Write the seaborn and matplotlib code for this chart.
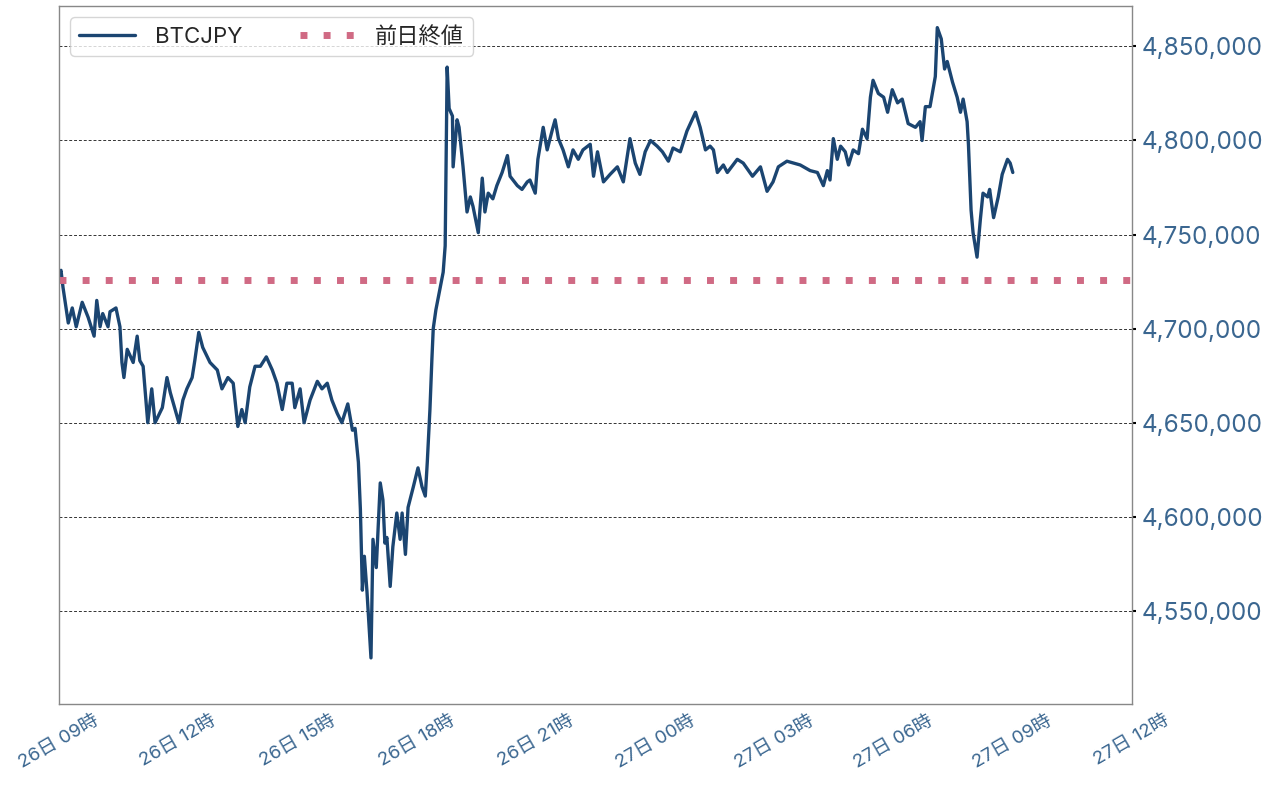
import pandas as pd
import seaborn as sns
import matplotlib.pyplot as plt
import matplotlib.dates as mdates
import matplotlib.ticker as mticker

# BTCJPY price (day hour:minute, JPY)
times = [
    "26 09:00", "26 09:03", "26 09:06", "26 09:14", "26 09:20", "26 09:26", "26 09:35", "26 09:44",
    "26 09:53", "26 09:57", "26 10:02", "26 10:06", "26 10:14", "26 10:17", "26 10:26", "26 10:32",
    "26 10:35", "26 10:38", "26 10:43", "26 10:52", "26 10:58", "26 11:02", "26 11:07", "26 11:14",
    "26 11:20", "26 11:25", "26 11:36", "26 11:43", "26 11:48", "26 12:01", "26 12:07", "26 12:13",
    "26 12:21", "26 12:25", "26 12:31", "26 12:37", "26 12:48", "26 12:59", "26 13:06", "26 13:15",
    "26 13:23", "26 13:30", "26 13:36", "26 13:41", "26 13:48", "26 13:56", "26 14:04", "26 14:13",
    "26 14:22", "26 14:29", "26 14:37", "26 14:44", "26 14:52", "26 14:56", "26 15:04", "26 15:10",
    "26 15:19", "26 15:30", "26 15:37", "26 15:45", "26 15:52", "26 16:00", "26 16:07", "26 16:16",
    "26 16:23", "26 16:27", "26 16:32", "26 16:35", "26 16:38", "26 16:41", "26 16:45", "26 16:51",
    "26 16:54", "26 16:59", "26 17:05", "26 17:09", "26 17:12", "26 17:15", "26 17:20", "26 17:24",
    "26 17:30", "26 17:35", "26 17:38", "26 17:43", "26 17:47", "26 17:55", "26 18:02", "26 18:08",
    "26 18:13", "26 18:16", "26 18:20", "26 18:23", "26 18:25", "26 18:29", "26 18:35", "26 18:40",
    "26 18:43", "26 18:46", "26 18:49", "26 18:54", "26 18:55", "26 19:01", "26 19:04", "26 19:10",
    "26 19:16", "26 19:21", "26 19:25", "26 19:33", "26 19:39", "26 19:43", "26 19:48", "26 19:55",
    "26 20:01", "26 20:09", "26 20:17", "26 20:21", "26 20:32", "26 20:39", "26 20:47", "26 20:51",
    "26 20:59", "26 21:03", "26 21:11", "26 21:17", "26 21:25", "26 21:29", "26 21:34", "26 21:41",
    "26 21:49", "26 21:56", "26 22:04", "26 22:11", "26 22:22", "26 22:27", "26 22:33", "26 22:42",
    "26 22:52", "26 23:03", "26 23:12", "26 23:22", "26 23:30", "26 23:37", "26 23:45", "26 23:53",
    "27 00:03", "27 00:11", "27 00:20", "27 00:27", "27 00:38", "27 00:48", "27 01:01", "27 01:08",
    "27 01:16", "27 01:23", "27 01:28", "27 01:34", "27 01:43", "27 01:49", "27 02:04", "27 02:13",
    "27 02:27", "27 02:39", "27 02:49", "27 02:58", "27 03:06", "27 03:19", "27 03:39", "27 03:54",
    "27 04:05", "27 04:14", "27 04:20", "27 04:24", "27 04:29", "27 04:35", "27 04:40", "27 04:47",
    "27 04:52", "27 04:59", "27 05:07", "27 05:13", "27 05:20", "27 05:25", "27 05:29", "27 05:37",
    "27 05:45", "27 05:51", "27 05:58", "27 06:06", "27 06:13", "27 06:22", "27 06:33", "27 06:40",
    "27 06:43", "27 06:48", "27 06:55", "27 07:03", "27 07:06", "27 07:12", "27 07:17", "27 07:21",
    "27 07:29", "27 07:36", "27 07:41", "27 07:45", "27 07:51", "27 07:53", "27 07:57", "27 08:00",
    "27 08:06", "27 08:11", "27 08:15", "27 08:22", "27 08:25", "27 08:31", "27 08:38", "27 08:44",
    "27 08:52", "27 08:56", "27 09:00",
]
prices = [
    4729000, 4731000, 4722000, 4703000, 4711000, 4701000, 4714000, 4706000,
    4696000, 4715000, 4701000, 4708000, 4701000, 4709000, 4711000, 4701000,
    4682000, 4674000, 4689000, 4682000, 4696000, 4683000, 4680000, 4650000,
    4668000, 4650000, 4658000, 4674000, 4666000, 4650000, 4662000, 4668000,
    4674000, 4683000, 4698000, 4690000, 4682000, 4678000, 4668000, 4674000,
    4671000, 4648000, 4657000, 4650000, 4669000, 4680000, 4680000, 4685000,
    4678000, 4671000, 4657000, 4671000, 4671000, 4658000, 4668000, 4650000,
    4662000, 4672000, 4668000, 4671000, 4662000, 4655000, 4650000, 4660000,
    4646000, 4647000, 4629000, 4604000, 4561000, 4579000, 4560000, 4525000,
    4588000, 4573000, 4618000, 4609000, 4586000, 4589000, 4563000, 4584000,
    4602000, 4588000, 4602000, 4580000, 4605000, 4616000, 4626000, 4616000,
    4611000, 4629000, 4657000, 4684000, 4700000, 4710000, 4721000, 4730000,
    4744000, 4839000, 4817000, 4813000, 4786000, 4811000, 4807000, 4786000,
    4762000, 4770000, 4765000, 4751000, 4780000, 4762000, 4772000, 4769000,
    4776000, 4783000, 4792000, 4781000, 4776000, 4774000, 4778000, 4779000,
    4772000, 4790000, 4807000, 4795000, 4806000, 4811000, 4801000, 4795000,
    4786000, 4795000, 4790000, 4795000, 4798000, 4781000, 4794000, 4778000,
    4782000, 4786000, 4778000, 4801000, 4788000, 4782000, 4794000, 4800000,
    4797000, 4794000, 4789000, 4796000, 4794000, 4805000, 4815000, 4807000,
    4795000, 4797000, 4795000, 4783000, 4787000, 4783000, 4790000, 4788000,
    4781000, 4786000, 4773000, 4778000, 4786000, 4789000, 4787000, 4784000,
    4783000, 4776000, 4784000, 4779000, 4801000, 4790000, 4797000, 4794000,
    4787000, 4795000, 4793000, 4806000, 4801000, 4823000, 4832000, 4825000,
    4823000, 4815000, 4827000, 4820000, 4822000, 4809000, 4807000, 4810000,
    4800000, 4818000, 4818000, 4834000, 4860000, 4854000, 4838000, 4842000,
    4831000, 4823000, 4815000, 4822000, 4810000, 4798000, 4763000, 4751000,
    4738000, 4758000, 4772000, 4770000, 4774000, 4759000, 4770000, 4782000,
    4790000, 4788000, 4783000,
]
prev_close = 4726000
x_start, x_end = "26 09:00", "27 12:00"

line_color = "#1b4571"
close_color = "#d06a84"
tick_color = "#3a6690"

df = pd.DataFrame({"time": pd.to_datetime(times, format="%d %H:%M"), "price": prices})

sns.set_style("white")
plt.rcParams["font.family"] = ["Inter", "Noto Sans CJK JP", "DejaVu Sans"]

fig = plt.figure(figsize=(12.8, 7.87), dpi=100)
ax = fig.add_axes([0.0461, 0.1055, 0.8383, 0.8869])

sns.lineplot(data=df, x="time", y="price", ax=ax, color=line_color, linewidth=2.4, label="BTCJPY")
ax.axhline(prev_close, color=close_color, linewidth=5, linestyle=(0, (1, 2.33)), label="前日終値")

ax.set_xlim(pd.to_datetime(x_start, format="%d %H:%M"), pd.to_datetime(x_end, format="%d %H:%M"))
ax.set_ylim(4500500, 4871500)

ax.xaxis.set_major_locator(mdates.HourLocator(byhour=range(0, 24, 3)))
ax.xaxis.set_major_formatter(mdates.DateFormatter("%d日 %H時"))
ax.yaxis.set_major_locator(mticker.MultipleLocator(50000))
ax.yaxis.set_major_formatter(mticker.StrMethodFormatter("{x:,.0f}"))
ax.yaxis.tick_right()

ax.set_xlabel("")
ax.set_ylabel("")
ax.grid(False)
ax.yaxis.grid(True, linestyle=(0, (3, 2)), color="#333333", linewidth=0.7)

ax.tick_params(axis="y", labelsize=17.5, labelcolor=tick_color, length=3, width=1.5, color="black", pad=4)
ax.tick_params(axis="x", labelsize=13.5, labelcolor=tick_color, length=3, width=1.5, color="black", pad=3)
plt.setp(ax.get_xticklabels(), rotation=30, ha="center")

for side in ax.spines.values():
    side.set_visible(True)
    side.set_color("#888888")
    side.set_linewidth(1)

ax.legend(loc="upper left", ncol=2, fontsize=16, frameon=True, edgecolor="#cccccc",
          handlelength=2.5, handletextpad=0.9, columnspacing=2.6)

fig.savefig("out.png", dpi=100)
